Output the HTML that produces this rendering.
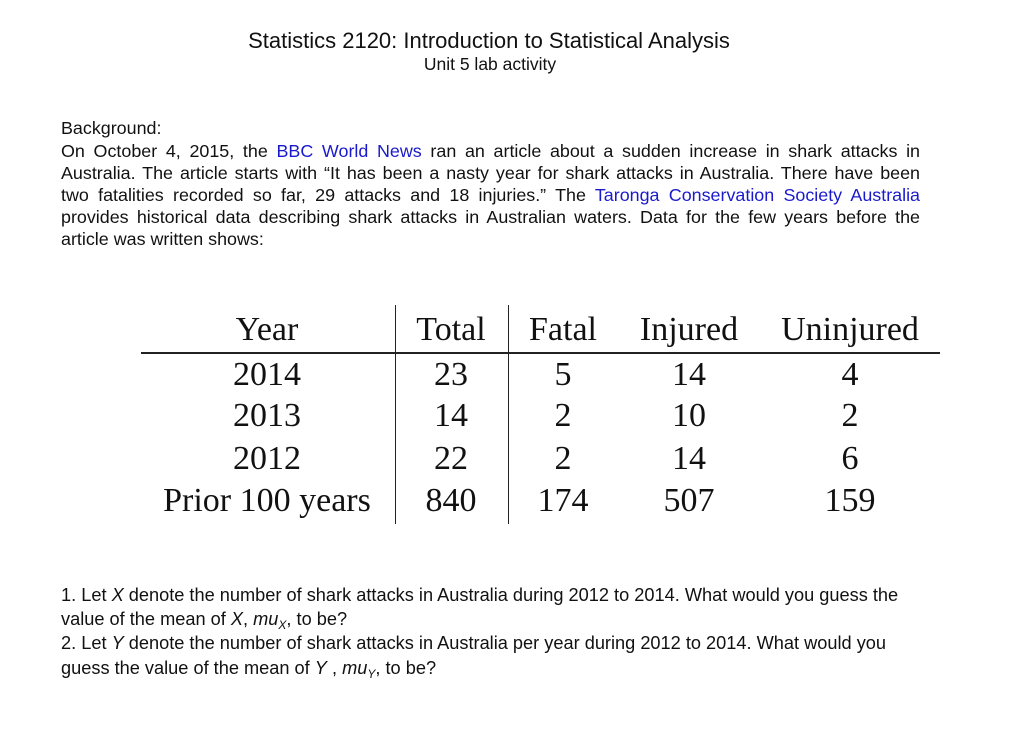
<!DOCTYPE html>
<html><head><meta charset="utf-8"><style>
body{margin:0;width:1024px;height:742px;background:#fff;position:relative;font-family:"Liberation Sans",Arial,sans-serif;color:#111;overflow:hidden}
.a{position:absolute;white-space:nowrap}
.l{position:absolute;left:61px;width:859px;font-size:17.9px;line-height:22px;text-align:justify;text-align-last:justify;white-space:nowrap}
.n{text-align-last:left}
.b{color:#1a1acc}
.t{position:absolute;font-family:"Liberation Serif","DejaVu Serif",serif;font-size:34px;line-height:36px;text-align:center;width:160px;transform:translateX(-80px)}
.q{position:absolute;left:61px;font-size:18.2px;line-height:22px;white-space:nowrap}
sub{font-size:12px;vertical-align:-4px;line-height:0}
</style></head><body>
<div class="a" style="left:0;width:978px;text-align:center;top:28px;font-size:22px">Statistics 2120: Introduction to Statistical Analysis</div>
<div class="a" style="left:0;width:980px;text-align:center;top:54px;font-size:17.5px">Unit 5 lab activity</div>

<div class="l n" style="top:117px">Background:</div>
<div class="l" style="top:140px">On October 4, 2015, the <span class="b">BBC World News</span> ran an article about a sudden increase in shark attacks in</div>
<div class="l" style="top:162px">Australia. The article starts with “It has been a nasty year for shark attacks in Australia. There have been</div>
<div class="l" style="top:184px">two fatalities recorded so far, 29 attacks and 18 injuries.” The <span class="b">Taronga Conservation Society Australia</span></div>
<div class="l" style="top:206px">provides historical data describing shark attacks in Australian waters. Data for the few years before the</div>
<div class="l n" style="top:228px">article was written shows:</div>

<div>
<div class="a" style="left:141px;top:352px;width:799px;height:1.5px;background:#222"></div>
<div class="a" style="left:394.5px;top:305px;width:1.5px;height:219px;background:#222"></div>
<div class="a" style="left:507.5px;top:305px;width:1.5px;height:219px;background:#222"></div>
<div id="tb"></div>
</div>

<div class="q" style="top:584px">1. Let <i>X</i> denote the number of shark attacks in Australia during 2012 to 2014. What would you guess the</div>
<div class="q" style="top:608px">value of the mean of <i>X</i>, <i>mu<sub>X</sub></i>, to be?</div>
<div class="q" style="top:632px">2. Let <i>Y</i> denote the number of shark attacks in Australia per year during 2012 to 2014. What would you</div>
<div class="q" style="top:657px">guess the value of the mean of <i>Y</i> , <i>mu<sub>Y</sub></i>, to be?</div>

<script>
const headers=["Year","Total","Fatal","Injured","Uninjured"];
const years=["2014","2013","2012","Prior 100 years"];
const totals=[23,14,22,840];
const fatal=[5,2,2,174];
const injured=[14,10,14,507];
const uninjured=[4,2,6,159];
const colX=[267,451,563,689,850];
const rowY=[312,357,398,441,483];
const tb=document.getElementById('tb');
function cell(txt,c,r,name){
  const d=document.createElement('div');
  d.className='t';
  d.style.left=colX[c]+'px';d.style.top=rowY[r]+'px';
  if(c==0&&r==4){d.style.width='260px';d.style.transform='translateX(-130px)';}
  d.textContent=txt;
  
  
  tb.appendChild(d);
}
headers.forEach((h,i)=>cell(h,i,0,'header-'+h.toLowerCase()));
years.forEach((y,i)=>{
  cell(y,0,i+1,'year-cell');
  cell(String(totals[i]),1,i+1,'total-cell');
  cell(String(fatal[i]),2,i+1,'fatal-cell');
  cell(String(injured[i]),3,i+1,'injured-cell');
  cell(String(uninjured[i]),4,i+1,'uninjured-cell');
});
</script>
</body></html>
